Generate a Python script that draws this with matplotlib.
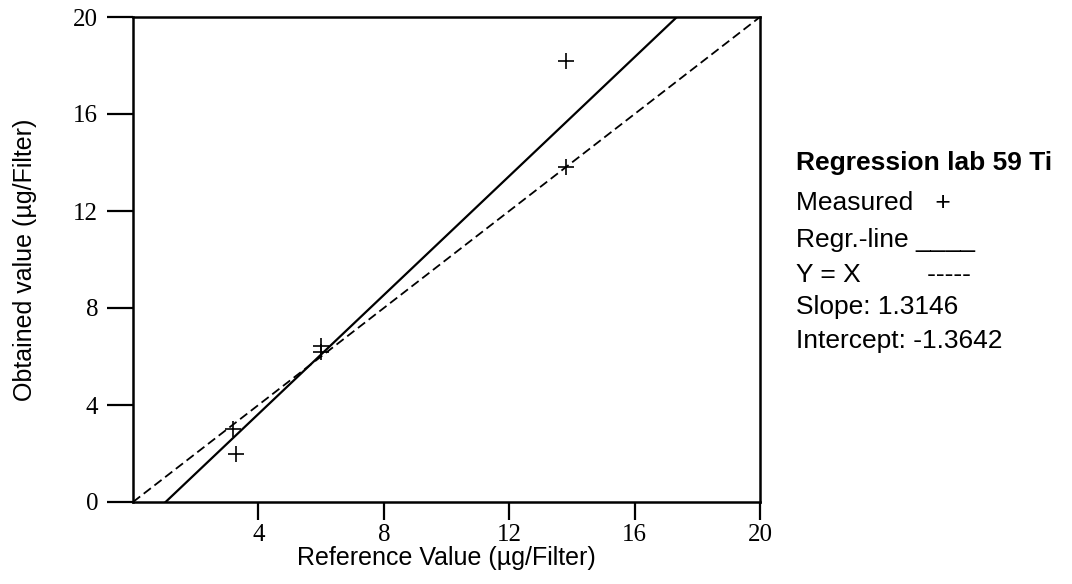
import matplotlib
matplotlib.use("Agg")
import matplotlib.pyplot as plt

# Data
ref_values = [3.2, 3.3, 6.0, 6.0, 13.8, 13.8]
obtained_values = [3.0, 2.0, 6.2, 6.45, 18.2, 13.8]
regr_line_x = [1.04, 17.35]
regr_line_y = [0.0, 20.0]
identity_x = [0.0, 20.0]
identity_y = [0.0, 20.0]
x_ticks = [4, 8, 12, 16, 20]
y_ticks = [0, 4, 8, 12, 16, 20]
legend_title = "Regression lab 59 Ti"
legend_lines = ["Measured   +", "Regr.-line ____", "Y = X         -----", "Slope: 1.3146", "Intercept: -1.3642"]

fig = plt.figure(figsize=(10.72, 5.84), dpi=100)
ax = fig.add_axes([133/1072, 82/584, 627/1072, 485/584])

ax.plot(identity_x, identity_y, color="black", lw=1.3, ls=(0, (5, 2.5)))
ax.plot(regr_line_x, regr_line_y, color="black", lw=1.6)
ax.plot(ref_values, obtained_values, ls="none", marker="+", ms=11, mew=1.2, color="black")

ax.set_xlim(0, 20)
ax.set_ylim(0, 20)
ax.set_xticks(x_ticks)
ax.set_yticks(y_ticks)
ax.set_xticklabels([str(t) for t in x_ticks], fontfamily="Liberation Serif", fontsize=18)
ax.set_yticklabels([str(t) for t in y_ticks], fontfamily="Liberation Serif", fontsize=18)
ax.tick_params(axis="y", direction="out", length=19, width=1.6, pad=6)
ax.tick_params(axis="x", direction="out", length=13, width=1.6, pad=3)
for s in ax.spines.values():
    s.set_linewidth(1.8)

ax.set_xlabel("Reference Value (\u00b5g/Filter)", fontfamily="Liberation Sans", fontsize=18, labelpad=0)
ax.set_ylabel("Obtained value (\u00b5g/Filter)", fontfamily="Liberation Sans", fontsize=18, labelpad=26)

fig.text(796/1072, 1 - 163/584, legend_title, fontfamily="Liberation Sans", fontweight="bold",
         fontsize=19, va="center", ha="left")
ys = [203, 240, 275, 307, 341]
for t, yy in zip(legend_lines, ys):
    fig.text(796/1072, 1 - yy/584, t, fontfamily="Liberation Sans", fontsize=19, va="center", ha="left")

fig.savefig("out.png", dpi=100)
